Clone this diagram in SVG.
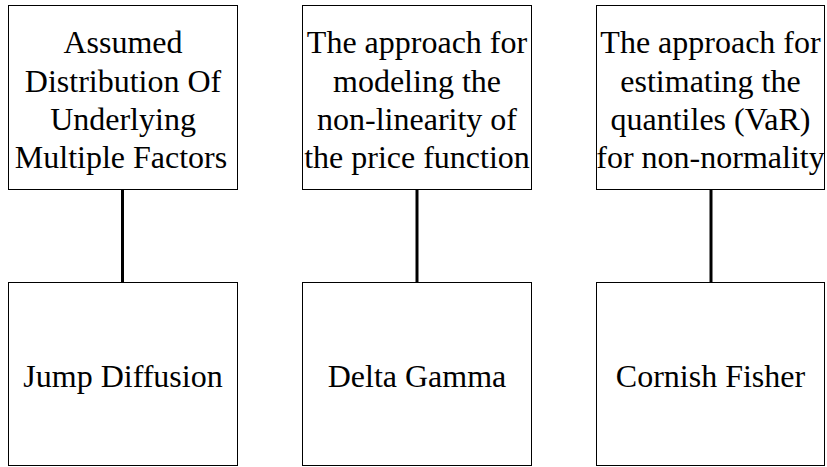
<svg xmlns="http://www.w3.org/2000/svg" width="827" height="467" viewBox="0 0 827 467">
<style>
.box{fill:#fff;stroke:#000;stroke-width:1}
.t{font-family:'Liberation Serif','Times New Roman',serif;font-size:32px;fill:#000;text-anchor:middle}
.c{stroke:#000;stroke-width:3;fill:none}
</style>
<rect width="827" height="467" fill="#fff"/>
<g id="connectors">
<line class="c" x1="122.5" y1="189.5" x2="122.5" y2="282.5"/>
<line class="c" x1="417" y1="189.5" x2="417" y2="282.5"/>
<line class="c" x1="711" y1="189.5" x2="711" y2="282.5"/>
</g>
<g id="top1">
<rect class="box" x="8.5" y="5.5" width="229" height="184"/>
<text class="t" x="123" y="53">Assumed</text>
<text class="t" x="123" y="91.5">Distribution Of</text>
<text class="t" x="123" y="130">Underlying</text>
<text class="t" x="121" y="168">Multiple Factors</text>
</g>
<g id="top2">
<rect class="box" x="302.5" y="5.5" width="229" height="184"/>
<text class="t" x="417" y="53">The approach for</text>
<text class="t" x="417" y="91.5">modeling the</text>
<text class="t" x="417" y="130">non-linearity of</text>
<text class="t" x="417" y="168">the price function</text>
</g>
<g id="top3">
<rect class="box" x="596.5" y="5.5" width="228" height="184"/>
<text class="t" x="710.5" y="53">The approach for</text>
<text class="t" x="710.5" y="91.5">estimating the</text>
<text class="t" x="710.5" y="130">quantiles (VaR)</text>
<text class="t" x="710.5" y="168">for non-normality</text>
</g>
<g id="bottom1">
<rect class="box" x="8.5" y="282.5" width="229" height="183"/>
<text class="t" x="123" y="387">Jump Diffusion</text>
</g>
<g id="bottom2">
<rect class="box" x="302.5" y="282.5" width="229" height="183"/>
<text class="t" x="417" y="387">Delta Gamma</text>
</g>
<g id="bottom3">
<rect class="box" x="596.5" y="282.5" width="228" height="183"/>
<text class="t" x="710.5" y="387">Cornish Fisher</text>
</g>
</svg>
